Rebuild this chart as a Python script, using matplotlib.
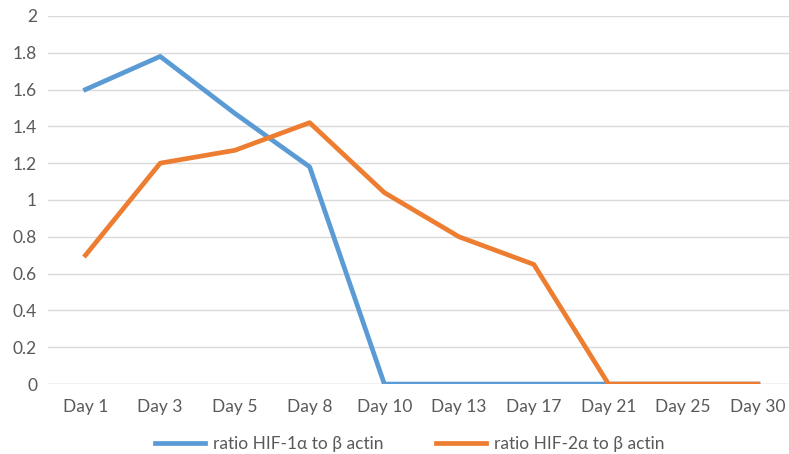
import matplotlib.pyplot as plt

days = ['Day 1', 'Day 3', 'Day 5', 'Day 8', 'Day 10', 'Day 13', 'Day 17', 'Day 21', 'Day 25', 'Day 30']
hif1 = [1.6, 1.78, 1.47, 1.18, 0, 0, 0, 0, 0, 0]
hif2 = [0.7, 1.2, 1.27, 1.42, 1.04, 0.8, 0.65, 0, 0, 0]

plt.rcParams['font.family'] = ['Lato', 'DejaVu Sans']
grey = '#595959'

fig = plt.figure(figsize=(7.89, 4.54), dpi=100)
ax = fig.add_axes([0.061, 0.154, 0.947, 0.811])

x = range(len(days))
ax.plot(x, hif1, color='#5B9BD5', lw=3.4, label='ratio HIF-1\u03b1 to \u03b2 actin', solid_joinstyle='round')
ax.plot(x, hif2, color='#ED7D31', lw=3.4, label='ratio HIF-2\u03b1 to \u03b2 actin', solid_joinstyle='round')

ax.set_xlim(-0.5, len(days) - 0.5)
ax.set_ylim(0, 2)
ax.set_yticks([i * 0.2 for i in range(11)])
ax.set_yticklabels(['0', '0.2', '0.4', '0.6', '0.8', '1', '1.2', '1.4', '1.6', '1.8', '2'])
ax.set_xticks(list(x))
ax.set_xticklabels(days)
ax.tick_params(axis='both', length=0, labelsize=12.5, colors=grey)
ax.tick_params(axis='x', pad=11)
ax.tick_params(axis='y', pad=8)
ax.grid(axis='y', color='#D9D9D9', lw=1)
ax.set_axisbelow(True)
for s in ax.spines.values():
    s.set_visible(False)
ax.axhline(0, color='#D9D9D9', lw=1, zorder=0)

fig.legend(loc='lower center', bbox_to_anchor=(0.519, -0.031), ncol=2, frameon=False,
           fontsize=12.5, labelcolor=grey, handlelength=2.9, handletextpad=0.45,
           columnspacing=3.0)

fig.savefig('out.png', dpi=100)
